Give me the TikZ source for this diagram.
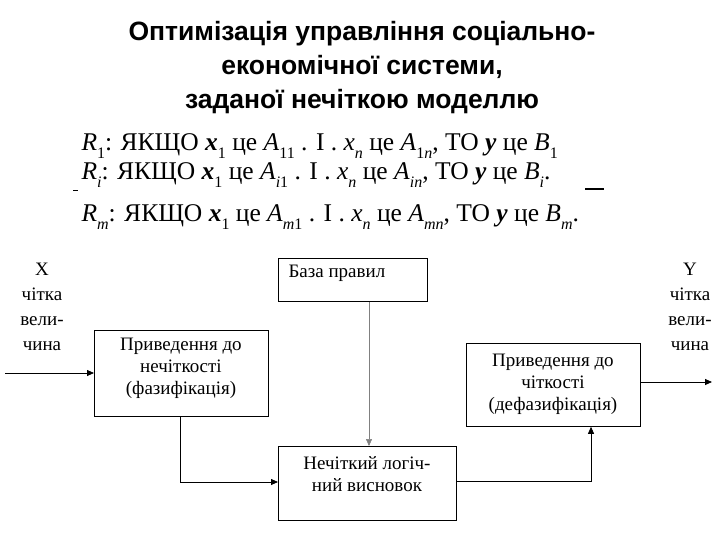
\documentclass[tikz,border=0pt]{standalone}
\usepackage{fontspec}
\setmainfont{Liberation Serif}
\newfontfamily\titlefont{Liberation Sans}
\newcommand{\sbs}[1]{\raisebox{-0.3em}{\fontsize{16}{16}\selectfont #1}}
\newcommand{\iv}[1]{\textit{#1}}
\newcommand{\bv}[1]{\textbf{\textit{#1}}}
\usetikzlibrary{arrows.meta}
\begin{document}
\begin{tikzpicture}[x=1pt,y=-1pt,
  blk/.style={draw,line width=0.8pt},
  lbl/.style={font=\fontsize{19}{22}\selectfont,align=center},
  side/.style={font=\fontsize{19}{25}\selectfont,align=center},
  conn/.style={line width=0.8pt,-{Triangle[length=7pt,width=6pt]}}]
\useasboundingbox (0,0) rectangle (720,540);
\node[font=\titlefont\bfseries\fontsize{26.5}{34}\selectfont,align=center] (title) at (362,68)
 {Оптимізація управління соціально-\\економічної системи,\\заданої нечіткою моделлю};
\node[anchor=base west,font=\fontsize{25.5}{27}\selectfont] (r1) at (78,151)
 {\iv{R}\sbs{1}: ЯКЩО \bv{x}\sbs{1} це \iv{A}\sbs{11} . I . \iv{x}\sbs{\iv{n}} це \iv{A}\sbs{1\iv{n}}, ТО \bv{y} це \iv{B}\sbs{1}};
\node[anchor=base west,font=\fontsize{25.5}{27}\selectfont] (ri) at (78,180)
 {\iv{R}\sbs{\iv{i}}: ЯКЩО \bv{x}\sbs{1} це \iv{A}\sbs{\iv{i}1} . I . \iv{x}\sbs{\iv{n}} це \iv{A}\sbs{\iv{in}}, ТО \bv{y} це \iv{B}\sbs{\iv{i}}.};
\node[anchor=base west,font=\fontsize{25.5}{27}\selectfont] (rm) at (78,222)
 {\iv{R}\sbs{\iv{m}}: ЯКЩО \bv{x}\sbs{1} це \iv{A}\sbs{\iv{m}1} . I . \iv{x}\sbs{\iv{n}} це \iv{A}\sbs{\iv{mn}}, ТО \bv{y} це \iv{B}\sbs{\iv{m}}.};
\draw[line width=1pt] (73,191) -- (78,191);
\draw[line width=1.2pt] (585,189) -- (604,189);
% boxes
\node[blk,minimum width=149,minimum height=43,anchor=north west,inner sep=0] (base) at (278,258) {};
\node[lbl,anchor=north west] at (285,262) {База правил};
\node[blk,minimum width=174,minimum height=86,anchor=north west,inner sep=0] (fuzz) at (94,330) {};
\node[lbl] at (181,368) {Приведення до\\нечіткості\\(фазифікація)};
\node[blk,minimum width=178,minimum height=74,anchor=north west,inner sep=0] (inf) at (278,446) {};
\node[lbl] at (367,474) {Нечіткий логіч-\\ний висновок};
\node[blk,minimum width=174,minimum height=83,anchor=north west,inner sep=0] (defz) at (466,343) {};
\node[lbl] at (553,384) {Приведення до\\чіткості\\(дефазифікація)};
\node[side] (xl) at (42,307) {X\\чітка\\вели-\\чина};
\node[side] (yl) at (690,307) {Y\\чітка\\вели-\\чина};
\coordinate (in) at (5,373);
\coordinate (out) at (712,382);
\draw[conn] (in) -- (fuzz.west |- in);
\draw[conn] (fuzz.south -| 180,0) -- (180,482) -- (inf.west |- 0,482);
\draw[conn,line width=0.5pt,draw=gray] (base.south -| 369,0) -- (inf.north -| 369,0);
\draw[conn] (inf.east |- 0,481) -- (591,481) -- (defz.south -| 591,0);
\draw[conn] (defz.east |- out) -- (out);
\end{tikzpicture}
\end{document}
